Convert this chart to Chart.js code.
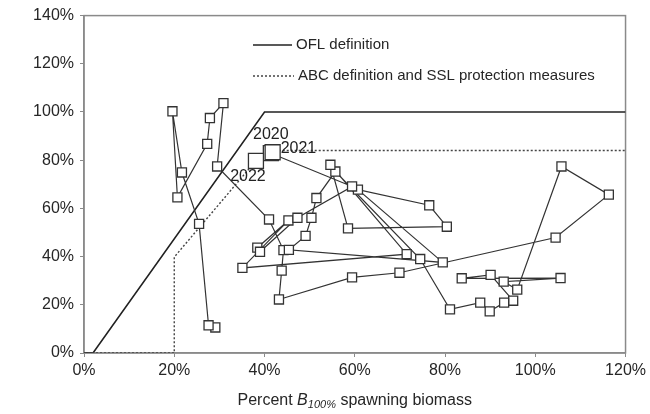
<!DOCTYPE html>
<html><head><meta charset="utf-8">
<script src="https://cdn.jsdelivr.net/npm/chart.js@4"></script>
<style>html,body{margin:0;padding:0;background:#fff}#wrap{width:650px;height:414px}</style>
</head><body><div id="wrap"><canvas id="c" width="650" height="414"></canvas></div>
<script>
// Trajectory: percent B100% spawning biomass (x) vs fishing mortality relative to OFL (y)
const biomassPct = [29.1,27.6,25.5,21.7,19.6,20.7,27.3,27.9,30.9,29.5,41.0,44.2,43.8,43.2,59.4,69.9,104.5,116.3,105.8,96.0,93.0,105.6,83.7,90.1,95.1,93.1,89.9,87.8,81.1,74.5,55.7,51.5,50.4,49.1,45.4,79.5,60.7,76.5,80.4,58.5,54.6,71.5,35.1,45.3,38.4,39.0,47.3,59.4,41.4,41.8,38.1];
const fishingPct = [10.6,11.5,53.6,74.9,100.3,64.6,86.8,97.5,103.7,77.4,55.4,42.7,34.2,22.2,31.4,33.3,47.9,65.7,77.4,26.3,29.6,31.1,31.0,32.4,21.7,20.9,17.3,20.9,18.1,39.0,75.3,64.3,56.1,48.6,42.8,37.6,67.8,61.3,52.4,51.7,78.1,41.0,35.3,55.0,43.7,42.0,56.1,69.1,82.9,83.3,79.7];
const labeledYears = ['2020','2021','2022']; // last three points
// Harvest control rules
const oflBiomass = [0,2,40,120];
const oflF = [0,0,100,100];
const abcBiomass = [0,20,20,40,120];
const abcF = [0,0,39.8,84,84];
const legendLabels = ['OFL definition','ABC definition and SSL protection measures'];
const xTickValues = [0,20,40,60,80,100,120];
const yTickValues = [0,20,40,60,80,100,120,140];

const traj = biomassPct.map((b,i)=>({x:b,y:fishingPct[i]}));
const nPts = traj.length;
const oflData = oflBiomass.map((b,i)=>({x:b,y:oflF[i]}));
const abcData = abcBiomass.map((b,i)=>({x:b,y:abcF[i]}));

const FONT = 'Liberation Sans, Arial, sans-serif';
const TXT = '#262626';

const deco = {
  id:'deco',
  beforeDatasetsDraw(chart){
    const {ctx, chartArea:a} = chart;
    ctx.save();
    ctx.strokeStyle = '#8a8a8a'; ctx.lineWidth = 1.5;
    ctx.strokeRect(a.left, a.top, a.right-a.left, a.bottom-a.top);
    ctx.restore();
  },
  afterDatasetsDraw(chart){
    const {ctx, chartArea:a, scales:{x,y}} = chart;
    ctx.save();
    // legend
    ctx.font = '15px ' + FONT; ctx.fillStyle = TXT; ctx.textBaseline='middle'; ctx.textAlign='left';
    ctx.strokeStyle = '#222'; ctx.lineWidth = 1.6;
    ctx.beginPath(); ctx.moveTo(253,45); ctx.lineTo(292,45); ctx.stroke();
    ctx.fillText(legendLabels[0], 296, 45);
    ctx.setLineDash([2,2]); ctx.lineWidth = 1.4; ctx.strokeStyle='#444';
    ctx.beginPath(); ctx.moveTo(253,76); ctx.lineTo(294,76); ctx.stroke();
    ctx.setLineDash([]);
    ctx.fillText(legendLabels[1], 298, 76);
    // year labels
    ctx.font = '16px ' + FONT; ctx.fillStyle = '#222';
    const offs = [[0,-19,'center'],[8,-4,'left'],[-8,16,'center']];
    labeledYears.forEach((t,k)=>{
      const i = nPts-3+k;
      const px = x.getPixelForValue(biomassPct[i]), py = y.getPixelForValue(fishingPct[i]);
      ctx.textAlign = offs[k][2];
      ctx.fillText(t, px+offs[k][0], py+offs[k][1]);
    });
    // x axis title with subscript
    const parts = [['Percent ','16px '+FONT,0],['B','italic 16px '+FONT,0],['100%','italic 11px '+FONT,4],[' spawning biomass','16px '+FONT,0]];
    let w = 0; parts.forEach(p=>{ctx.font=p[1]; w+=ctx.measureText(p[0]).width;});
    let cx = (a.left+a.right)/2 - w/2; const ty = 401;
    ctx.textAlign='left'; ctx.fillStyle=TXT;
    parts.forEach(p=>{ctx.font=p[1]; ctx.fillText(p[0], cx, ty+p[2]); cx+=ctx.measureText(p[0]).width;});
    ctx.restore();
  }
};

new Chart(document.getElementById('c'), {
  type:'scatter',
  data:{datasets:[
    {label:'Trajectory', data:traj, showLine:true, borderColor:'#333', borderWidth:1.2,
     pointStyle:'rect', pointRadius:(c)=>c.dataIndex>=nPts-3?10.6:6.4,
     pointBackgroundColor:'#fff', pointBorderColor:'#333', pointBorderWidth:1.3, order:0},
    {label:legendLabels[0], data:oflData, showLine:true, borderColor:'#222', borderWidth:1.6, pointRadius:0, order:2},
    {label:legendLabels[1], data:abcData, showLine:true, borderColor:'#444', borderWidth:1.4, borderDash:[2,2], pointRadius:0, order:1}
  ]},
  options:{
    responsive:false, animation:false, devicePixelRatio:1,
    layout:{padding:{left:0,right:22,top:15,bottom:0}},
    plugins:{legend:{display:false}, tooltip:{enabled:false}},
    scales:{
      x:{type:'linear', min:0, max:120,
         afterBuildTicks:(s)=>{s.ticks = xTickValues.map(v=>({value:v}));},
         afterFit:(s)=>{s.height = 61;},
         grid:{display:true, drawOnChartArea:false, drawTicks:true, tickLength:4, color:'#8a8a8a'},
         border:{display:true, color:'#8a8a8a', width:1.5},
         ticks:{color:TXT, font:{family:FONT,size:16}, padding:4, maxRotation:0, callback:(v)=>v+'%'}},
      y:{type:'linear', min:0, max:140,
         afterBuildTicks:(s)=>{s.ticks = yTickValues.map(v=>({value:v}));},
         afterFit:(s)=>{s.width = 84;},
         grid:{display:true, drawOnChartArea:false, drawTicks:true, tickLength:4, color:'#8a8a8a'},
         border:{display:true, color:'#8a8a8a', width:1.5},
         ticks:{color:TXT, font:{family:FONT,size:16}, padding:6, callback:(v)=>v+'%'}}
    }
  },
  plugins:[deco]
});
</script></body></html>
